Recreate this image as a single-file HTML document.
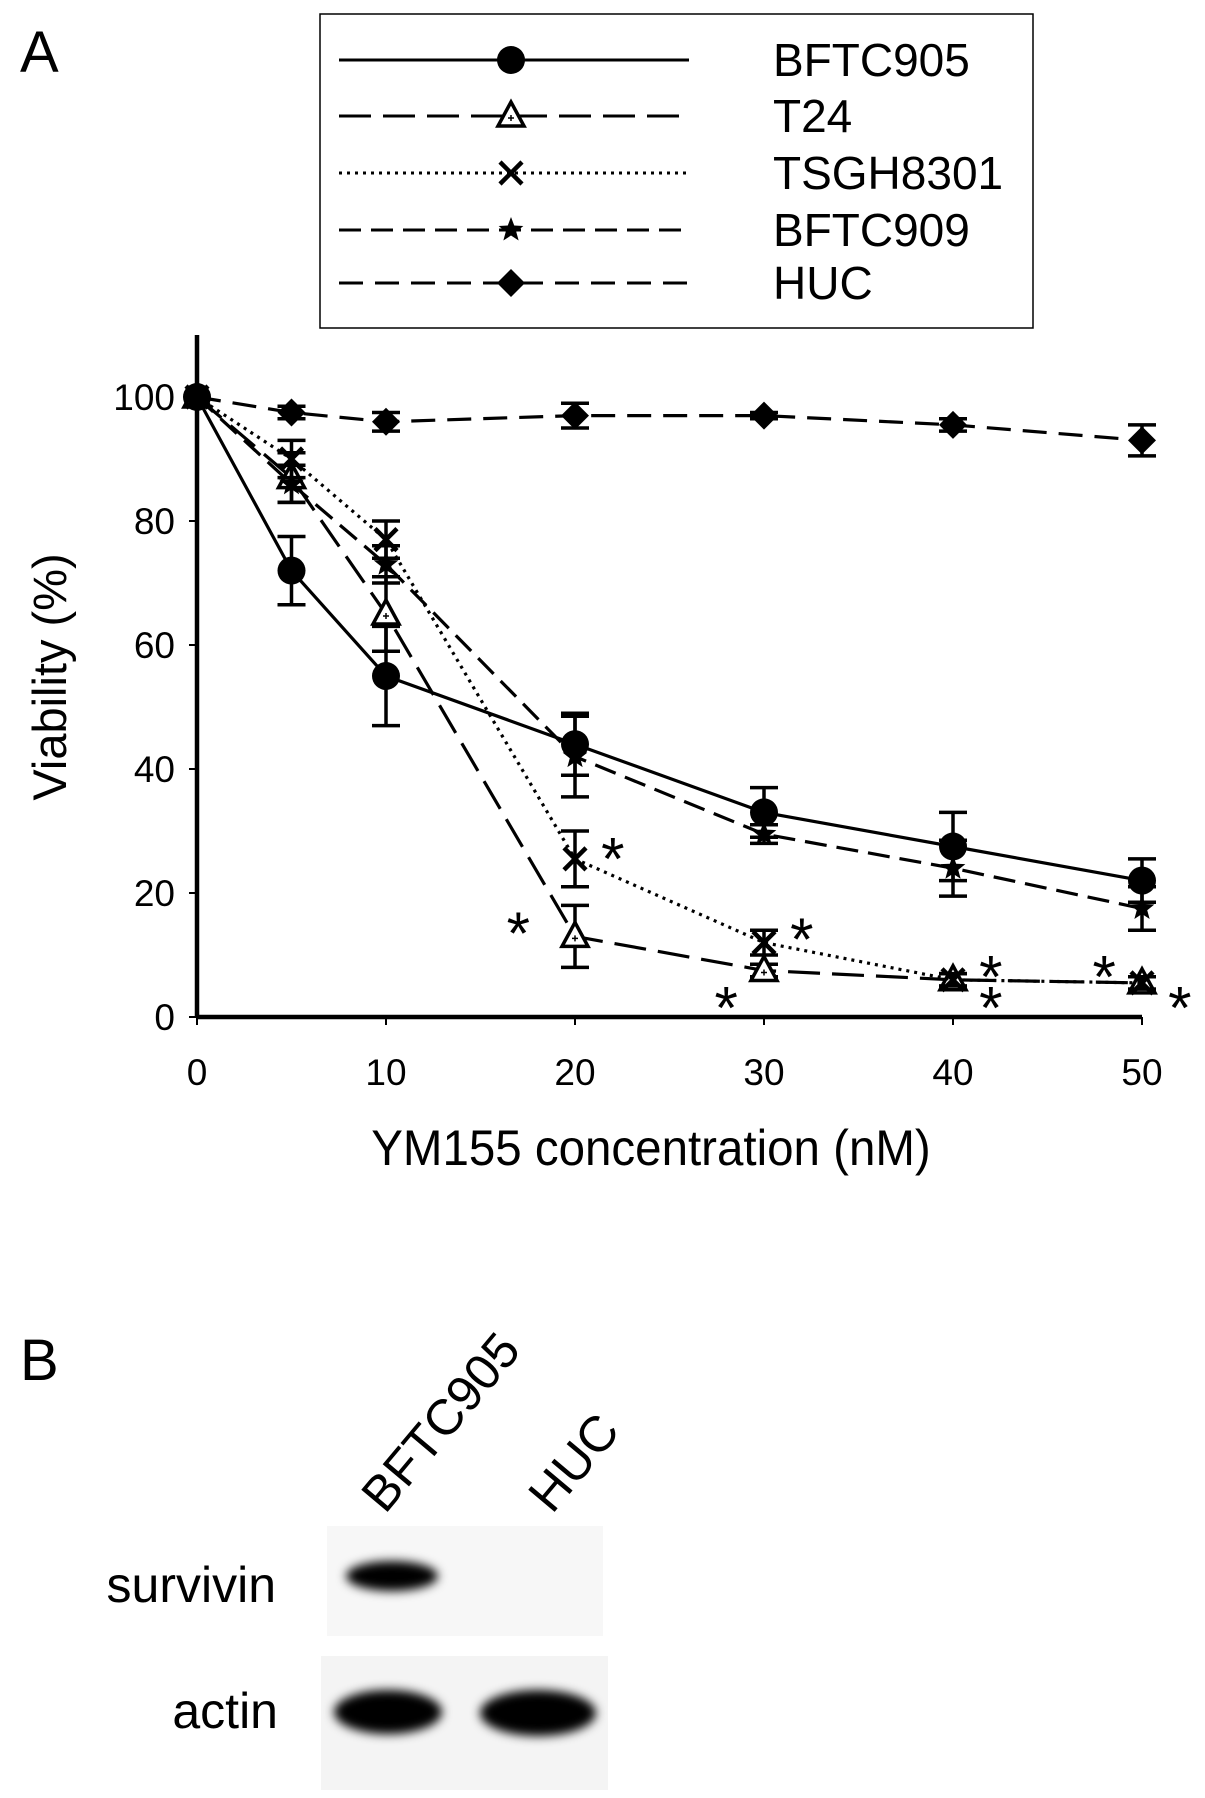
<!DOCTYPE html>
<html><head><meta charset="utf-8"><style>
html,body{margin:0;padding:0;background:#fff}
svg{display:block;font-family:"Liberation Sans",sans-serif}
</style></head><body>
<svg id="fig" width="1205" height="1798" viewBox="0 0 1205 1798">
<defs>
<filter id="blur" x="-30%" y="-60%" width="160%" height="220%"><feGaussianBlur stdDeviation="5"/></filter>
</defs>
<text x="20" y="72" font-size="58">A</text>
<g id="legend">
<rect x="320" y="14" width="713" height="314" fill="#fff" stroke="#000" stroke-width="1.5"/>
</g>
<g id="plot"></g>
<text x="651" y="1165" font-size="50" text-anchor="middle" transform="translate(651,0) scale(0.95,1) translate(-651,0)">YM155 concentration (nM)</text>
<text transform="translate(66,677) rotate(-90)" font-size="47" text-anchor="middle">Viability (%)</text>

<text x="20" y="1380" font-size="58">B</text>
<text transform="translate(385,1515) rotate(-50)" font-size="50">BFTC905</text>
<text transform="translate(552,1515) rotate(-50)" font-size="50">HUC</text>
<text x="276" y="1602" font-size="50" text-anchor="end">survivin</text>
<text x="278" y="1728" font-size="50" text-anchor="end">actin</text>
<rect x="327" y="1526" width="276" height="110" fill="#f7f7f7"/>
<rect x="321" y="1656" width="287" height="134" fill="#f4f4f4"/>
<ellipse cx="392" cy="1576" rx="46" ry="15" fill="#000" filter="url(#blur)"/>
<ellipse cx="388" cy="1712" rx="54" ry="22" fill="#000" filter="url(#blur)"/>
<ellipse cx="538" cy="1713" rx="58" ry="23" fill="#000" filter="url(#blur)"/>
</svg>
<script>
const xValues=[0,5,10,20,30,40,50];
const seriesNames=["BFTC905","T24","TSGH8301","BFTC909","HUC"];
const bftc905=[100,72,55,44,33,27.5,22];
const bftc905Err=[0,5.5,8,5,4,5.5,3.5];
const t24=[100,87,65,13,7.5,6,5.5];
const t24Err=[0,4,6,5,1,1,1];
const tsgh8301=[100,90,77,25.5,12,6,5.5];
const tsgh8301Err=[0,3,3,4.5,2,1,1];
const bftc909=[100,86,73,42,29.5,24,17.5];
const bftc909Err=[0,3,3,6.5,1.5,4.5,3.5];
const huc=[100,97.5,96,97,97,95.5,93];
const hucErr=[0,1,1.5,2,0.5,1,2.5];
const xTicks=[0,10,20,30,40,50];
const yTicks=[0,20,40,60,80,100];
const starX=[22,17,32,28,42,42,48,52];
const starY=[27,15,14,3,8,3,8,3];

const NS="http://www.w3.org/2000/svg";
const X0=197,X1=1142,Y0=1017,Y1=397;
const sx=v=>X0+(v/50)*(X1-X0);
const sy=v=>Y0-(v/100)*(Y0-Y1);
const plot=document.getElementById('plot');
const legend=document.getElementById('legend');
function mk(tag,attrs,parent){const e=document.createElementNS(NS,tag);for(const k in attrs)e.setAttribute(k,attrs[k]);parent.appendChild(e);return e;}

let a=mk('line',{x1:X0,y1:335,x2:X0,y2:Y0,stroke:'#000','stroke-width':4.5},plot);


a=mk('line',{x1:X0,y1:Y0,x2:X1,y2:Y0,stroke:'#000','stroke-width':4.5},plot);


yTicks.forEach(t=>{
  const l=mk('line',{x1:X0-8,y1:sy(t),x2:X0,y2:sy(t),stroke:'#000','stroke-width':2},plot);
  
  
  const tx=mk('text',{x:X0-22,y:sy(t)+13,'font-size':37,'text-anchor':'end'},plot);
  tx.textContent=t;
  
  
});
xTicks.forEach(t=>{
  const l=mk('line',{x1:sx(t),y1:Y0,x2:sx(t),y2:Y0+8,stroke:'#000','stroke-width':2},plot);
  
  
  const tx=mk('text',{x:sx(t),y:Y0+68,'font-size':37,'text-anchor':'middle'},plot);
  tx.textContent=t;
  
  
});

function marker(type,cx,cy,parent,s){
  s=s||1;
  if(type==='circle') return mk('circle',{cx:cx,cy:cy,r:14*s,fill:'#000'},parent);
  if(type==='triangle') {const g=mk('g',{},parent);mk('polygon',{points:`${cx},${cy-14*s} ${cx-13*s},${cy+10*s} ${cx+13*s},${cy+10*s}`,fill:'#fff',stroke:'#000','stroke-width':3.5},g);mk('path',{d:`M${cx-3} ${cy+2}h6M${cx} ${cy-1}v6`,stroke:'#000','stroke-width':1.5},g);return g;}
  if(type==='x') return mk('path',{d:`M${cx-11*s} ${cy-11*s}L${cx+11*s} ${cy+11*s}M${cx+11*s} ${cy-11*s}L${cx-11*s} ${cy+11*s}`,stroke:'#000','stroke-width':4.5},parent);
  if(type==='star'){let p='';for(let i=0;i<10;i++){const r=i%2?5.5*s:13*s;const ang=-Math.PI/2+i*Math.PI/5;p+=(cx+r*Math.cos(ang))+','+(cy+r*Math.sin(ang))+' ';}return mk('polygon',{points:p,fill:'#000'},parent);}
  if(type==='diamond') return mk('polygon',{points:`${cx},${cy-14*s} ${cx+14*s},${cy} ${cx},${cy+14*s} ${cx-14*s},${cy}`,fill:'#000'},parent);
}

const seriesVals=[bftc905,t24,tsgh8301,bftc909,huc];
const seriesErrs=[bftc905Err,t24Err,tsgh8301Err,bftc909Err,hucErr];
const markers=['circle','triangle','x','star','diamond'];
const dashes=['none','32 12','3 5','22 10','24 12'];
const legendY=[60,116,173,230,283];

seriesNames.forEach((name,si)=>{
  const g=mk('g',{},plot);
  
  
  const vals=seriesVals[si],errs=seriesErrs[si];
  const pts=xValues.map((x,i)=>sx(x)+','+sy(vals[i])).join(' ');
  mk('polyline',{points:pts,fill:'none',stroke:'#000','stroke-width':3.2,'stroke-dasharray':dashes[si]},g);
  xValues.forEach((x,i)=>{
    if(errs[i]>0){
      const eb=mk('path',{d:`M${sx(x)} ${sy(vals[i]+errs[i])}V${sy(vals[i]-errs[i])}M${sx(x)-14} ${sy(vals[i]+errs[i])}h28M${sx(x)-14} ${sy(vals[i]-errs[i])}h28`,stroke:'#000','stroke-width':3.5,fill:'none'},g);
      
      
    }
    const m=marker(markers[si],sx(x),sy(vals[i]),g);
    
    
  });
  const lg=mk('g',{},legend);
  
  
  mk('line',{x1:339,y1:legendY[si],x2:689,y2:legendY[si],stroke:'#000','stroke-width':3,'stroke-dasharray':dashes[si]},lg);
  marker(markers[si],511,legendY[si],lg);
  const t=mk('text',{x:773,y:legendY[si]+16,'font-size':46},lg);
  t.textContent=name;
});

starX.forEach((x,i)=>{
  const t=mk('text',{x:sx(x),y:sy(starY[i])+30,'font-size':60,'text-anchor':'middle'},plot);
  t.textContent='*';
  
  
});
</script>
</body></html>
